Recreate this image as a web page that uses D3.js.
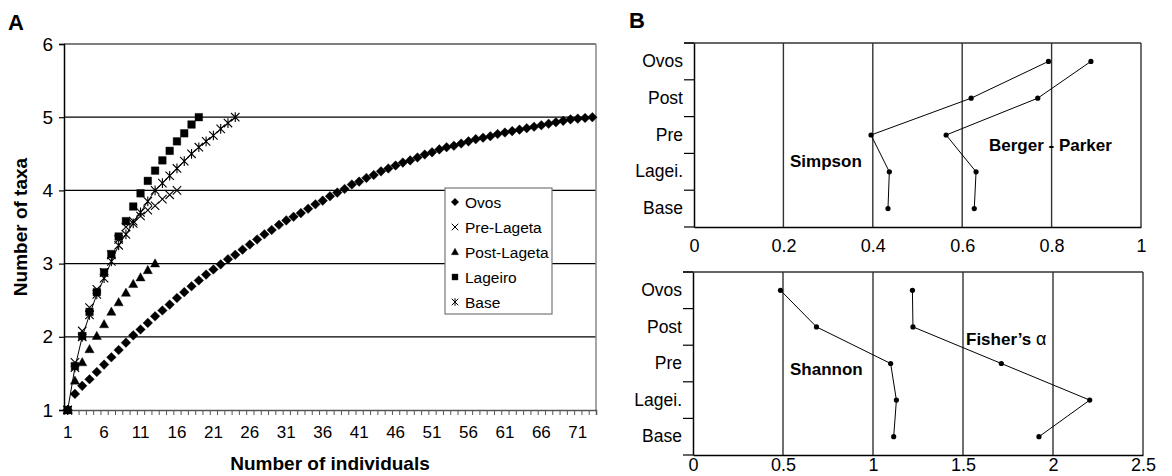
<!DOCTYPE html>
<html>
<head>
<meta charset="utf-8">
<script src="https://cdn.jsdelivr.net/npm/d3@7"></script>
<style>
  html, body { margin: 0; padding: 0; background: #fff; }
  svg { display: block; font-family: "Liberation Sans", Arial, sans-serif; }
</style>
</head>
<body>
<svg id="chart" width="1172" height="476"></svg>
<script>
// ---------- Panel A data (species accumulation) ----------
const ovos = [1, 1.22, 1.33, 1.42, 1.52, 1.62, 1.72, 1.82, 1.92, 2.02, 2.10, 2.19, 2.28, 2.36, 2.44, 2.53, 2.61, 2.69, 2.77, 2.85,
  2.92, 2.99, 3.06, 3.12, 3.19, 3.26, 3.33, 3.40, 3.46, 3.53, 3.59, 3.64, 3.69, 3.75, 3.81, 3.86, 3.92, 3.97, 4.02, 4.08,
  4.12, 4.17, 4.21, 4.26, 4.30, 4.34, 4.38, 4.41, 4.45, 4.49, 4.52, 4.56, 4.59, 4.61, 4.64, 4.67, 4.70, 4.72, 4.74, 4.77,
  4.79, 4.81, 4.83, 4.85, 4.87, 4.89, 4.91, 4.93, 4.95, 4.97, 4.98, 4.99, 5.0];
const preLageta = [1, 1.65, 2.08, 2.40, 2.65, 2.88, 3.12, 3.33, 3.50, 3.58, 3.65, 3.73, 3.79, 3.88, 3.94, 4.0];
const postLageta = [1, 1.40, 1.65, 1.83, 2.01, 2.17, 2.34, 2.47, 2.60, 2.72, 2.81, 2.91, 3.0];
const lageiro = [1, 1.60, 2.01, 2.34, 2.61, 2.88, 3.13, 3.37, 3.58, 3.78, 3.96, 4.13, 4.27, 4.41, 4.54, 4.67, 4.78, 4.90, 5.0];
const base = [1, 1.58, 2.0, 2.30, 2.58, 2.80, 3.03, 3.25, 3.40, 3.55, 3.70, 3.85, 4.0, 4.10, 4.20, 4.30, 4.40, 4.50, 4.59, 4.67,
  4.75, 4.84, 4.92, 5.0];
const seriesNames = ["Ovos", "Pre-Lageta", "Post-Lageta", "Lageiro", "Base"];
const nIndividuals = 73;
const xTickLabels = [1, 6, 11, 16, 21, 26, 31, 36, 41, 46, 51, 56, 61, 66, 71];
const yTicksA = [1, 2, 3, 4, 5, 6];

// ---------- Panel B data (diversity indices) ----------
const sites = ["Ovos", "Post", "Pre", "Lagei.", "Base"];
const simpson = [0.793, 0.620, 0.396, 0.437, 0.434];
const bergerParker = [0.888, 0.769, 0.564, 0.631, 0.627];
const shannon = [0.486, 0.686, 1.098, 1.130, 1.115];
const fisherAlpha = [1.219, 1.222, 1.713, 2.204, 1.922];
const ticksTop = [0, 0.2, 0.4, 0.6, 0.8, 1];
const ticksBottom = [0, 0.5, 1, 1.5, 2, 2.5];

const svg = d3.select("#chart");
const FONT = '"Liberation Sans", Arial, sans-serif';

// ---------- marker paths ----------
function markerPath(type, k) {
  const p = d3.path();
  if (type === "diamond") { const r = 4.8 * k; p.moveTo(0, -r); p.lineTo(r, 0); p.lineTo(0, r); p.lineTo(-r, 0); p.closePath(); }
  else if (type === "square") { const r = 3.8 * k; p.rect(-r, -r, 2 * r, 2 * r); }
  else if (type === "triangle") { const r = 4.6 * k; p.moveTo(0, -r * 1.05); p.lineTo(r, r * 0.75); p.lineTo(-r, r * 0.75); p.closePath(); }
  else if (type === "times") { const r = 4.2 * k; p.moveTo(-r, -r); p.lineTo(r, r); p.moveTo(-r, r); p.lineTo(r, -r); }
  else if (type === "asterisk") { const r = 4.2 * k; p.moveTo(-r, -r); p.lineTo(r, r); p.moveTo(-r, r); p.lineTo(r, -r); p.moveTo(0, -r * 1.15); p.lineTo(0, r * 1.15); }
  return p.toString();
}
const filled = { diamond: true, square: true, triangle: true, times: false, asterisk: false };

// ---------- Panel A ----------
const A = { left: 64, right: 596, top: 44, bottom: 410 };
const xA = d3.scaleLinear().domain([0.5, nIndividuals + 0.5]).range([A.left, A.right]);
const yA = d3.scaleLinear().domain([1, 6]).range([A.bottom, A.top]);
const gA = svg.append("g");

// gridlines
gA.selectAll("line.grid").data(yTicksA.filter(d => d > 1)).join("line")
  .attr("x1", A.left).attr("x2", A.right)
  .attr("y1", d => yA(d)).attr("y2", d => yA(d))
  .attr("stroke", "#000").attr("stroke-width", 1.2);
// right border
gA.append("line").attr("x1", A.right).attr("x2", A.right).attr("y1", A.top).attr("y2", A.bottom)
  .attr("stroke", "#888").attr("stroke-width", 1.5);

// y axis
const yAxisA = d3.axisLeft(yA).tickValues(yTicksA).tickSize(5).tickPadding(6).tickFormat(d3.format("d"));
const yAx = gA.append("g").attr("transform", `translate(${A.left},0)`).call(yAxisA);
yAx.select(".domain").attr("stroke", "#000").attr("stroke-width", 1.5);
yAx.selectAll(".tick line").attr("stroke", "#000").attr("stroke-width", 1.2);
yAx.selectAll(".tick text").attr("font-size", 19).attr("font-family", FONT).attr("fill", "#000");

// x axis (category boundaries as ticks)
const boundaries = d3.range(0, nIndividuals + 1).map(i => i + 0.5);
const xAxisA = d3.axisBottom(xA).tickValues(boundaries).tickSize(5).tickFormat("");
const xAx = gA.append("g").attr("transform", `translate(0,${A.bottom})`).call(xAxisA);
xAx.select(".domain").attr("stroke", "#555").attr("stroke-width", 1.5);
xAx.selectAll(".tick line").attr("stroke", "#555").attr("stroke-width", 1);
gA.selectAll("text.xl").data(xTickLabels).join("text")
  .attr("x", d => xA(d)).attr("y", A.bottom + 28)
  .attr("text-anchor", "middle").attr("font-size", 17).attr("font-family", FONT)
  .text(d => d);

// series
const seriesData = [
  { name: seriesNames[0], values: ovos, type: "diamond" },
  { name: seriesNames[1], values: preLageta, type: "times" },
  { name: seriesNames[2], values: postLageta, type: "triangle" },
  { name: seriesNames[3], values: lageiro, type: "square" },
  { name: seriesNames[4], values: base, type: "asterisk" }
];

// Base connecting line
const lineA = d3.line().x((d, i) => xA(i + 1)).y(d => yA(d));
gA.append("path").datum(base).attr("d", lineA)
  .attr("fill", "none").attr("stroke", "#000").attr("stroke-width", 1);

const drawOrder = [0, 2, 1, 4, 3];
drawOrder.forEach(k => {
  const s = seriesData[k];
  gA.append("g").selectAll("path").data(s.values).join("path")
    .attr("transform", (d, i) => `translate(${xA(i + 1)},${yA(d)})`)
    .attr("d", markerPath(s.type, 1))
    .attr("fill", filled[s.type] ? "#000" : "none")
    .attr("stroke", "#000")
    .attr("stroke-width", filled[s.type] ? 0.4 : 1.1);
});

// legend
const L = { x: 445, y: 188, w: 107, h: 126 };
const leg = gA.append("g");
leg.append("rect").attr("x", L.x).attr("y", L.y).attr("width", L.w).attr("height", L.h)
  .attr("fill", "#fff").attr("stroke", "#777").attr("stroke-width", 1.2);
seriesData.forEach((s, i) => {
  const cy = L.y + 14 + i * 25;
  leg.append("path").attr("transform", `translate(${L.x + 10},${cy})`)
    .attr("d", markerPath(s.type, 0.78))
    .attr("fill", filled[s.type] ? "#000" : "none").attr("stroke", "#000")
    .attr("stroke-width", filled[s.type] ? 0.4 : 1);
  leg.append("text").attr("x", L.x + 20).attr("y", cy + 5.5)
    .attr("font-size", 15.5).attr("font-family", FONT).text(s.name);
});

// titles
gA.append("text").attr("transform", `translate(27,${(A.top + A.bottom) / 2}) rotate(-90)`)
  .attr("text-anchor", "middle").attr("font-size", 19).attr("font-weight", "bold").attr("font-family", FONT)
  .text("Number of taxa");
gA.append("text").attr("x", 330).attr("y", 470)
  .attr("text-anchor", "middle").attr("font-size", 19).attr("font-weight", "bold").attr("font-family", FONT)
  .text("Number of individuals");
svg.append("text").attr("x", 8).attr("y", 30).attr("font-size", 22).attr("font-weight", "bold").attr("font-family", FONT).text("A");
svg.append("text").attr("x", 629).attr("y", 28).attr("font-size", 22).attr("font-weight", "bold").attr("font-family", FONT).text("B");

// ---------- Panel B ----------
function indexPanel(box, domainMax, ticks, s1, s2, padBottom) {
  const x = d3.scaleLinear().domain([0, domainMax]).range([box.left, box.right]);
  const y = d3.scaleBand().domain(sites).range([box.top, box.bottom]).padding(0);
  const g = svg.append("g");
  g.selectAll("line.v").data(ticks.slice(1)).join("line")
    .attr("x1", d => x(d)).attr("x2", d => x(d)).attr("y1", box.top).attr("y2", box.bottom)
    .attr("stroke", "#333").attr("stroke-width", 1.4);
  g.append("line").attr("x1", box.left - 10).attr("x2", box.right).attr("y1", box.top).attr("y2", box.top)
    .attr("stroke", "#333").attr("stroke-width", 1.4);
  const yAxis = d3.axisLeft(y).tickSize(0).tickPadding(11);
  const ya = g.append("g").attr("transform", `translate(${box.left},0)`).call(yAxis);
  ya.select(".domain").attr("stroke", "#000").attr("stroke-width", 1.5);
  ya.selectAll(".tick text").attr("font-size", 17.5).attr("font-family", FONT).attr("fill", "#000");
  const bounds = sites.map(s => y(s)).concat([box.bottom]);
  g.selectAll("line.bt").data(bounds).join("line")
    .attr("x1", box.left - 10).attr("x2", box.left).attr("y1", d => d).attr("y2", d => d)
    .attr("stroke", "#000").attr("stroke-width", 1.2);
  const xAxis = d3.axisBottom(x).tickValues(ticks).tickSize(0).tickPadding(padBottom).tickFormat(d => String(d));
  const xa = g.append("g").attr("transform", `translate(0,${box.bottom})`).call(xAxis);
  xa.select(".domain").attr("stroke", "#000").attr("stroke-width", 1.5);
  xa.selectAll(".tick text").attr("font-size", 18).attr("font-family", FONT).attr("fill", "#000");
  [s1, s2].forEach(vals => {
    const pts = vals.map((v, i) => [x(v), y(sites[i]) + y.bandwidth() / 2]);
    g.append("path").datum(pts).attr("d", d3.line())
      .attr("fill", "none").attr("stroke", "#000").attr("stroke-width", 1);
    g.selectAll(null).data(pts).join("circle")
      .attr("cx", d => d[0]).attr("cy", d => d[1]).attr("r", 2.6).attr("fill", "#000");
  });
  return g;
}

const gTop = indexPanel({ left: 694, right: 1141, top: 43, bottom: 227 }, 1, ticksTop, simpson, bergerParker, 12);
gTop.append("text").attr("x", 790).attr("y", 167).attr("font-size", 17).attr("font-weight", "bold").attr("font-family", FONT).text("Simpson");
gTop.append("text").attr("x", 989).attr("y", 151).attr("font-size", 17).attr("font-weight", "bold").attr("font-family", FONT).text("Berger - Parker");

const gBot = indexPanel({ left: 693, right: 1143, top: 272, bottom: 455 }, 2.5, ticksBottom, shannon, fisherAlpha, 3);
gBot.append("text").attr("x", 790).attr("y", 375).attr("font-size", 17).attr("font-weight", "bold").attr("font-family", FONT).text("Shannon");
const ft = gBot.append("text").attr("x", 966).attr("y", 345).attr("font-size", 17).attr("font-family", FONT);
ft.append("tspan").attr("font-weight", "bold").text("Fisher\u2019s ");
ft.append("tspan").attr("font-weight", "normal").attr("font-size", 18).text("\u03b1");
</script>
</body>
</html>
